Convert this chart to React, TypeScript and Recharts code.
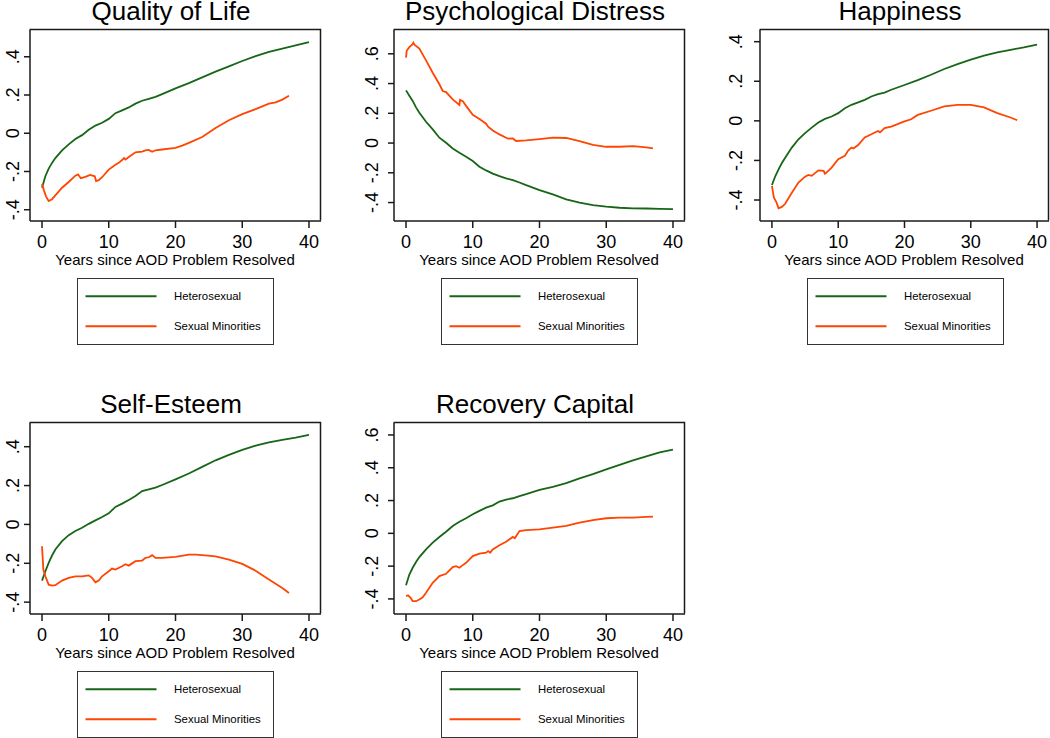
import { LineChart, Line, XAxis, YAxis } from "recharts"

type Pt = [number, number]

const FONT = '"Liberation Sans", Arial, Helvetica, sans-serif'
const GREEN = "#176617"
const ORANGE = "#ff4500"
const AXIS = "#1a1a1a"

const xTicks = [0, 10, 20, 30, 40]
const xDomain: [number, number] = [-1.8, 41.8]

const titles = ["Quality of Life", "Psychological Distress", "Happiness", "Self-Esteem", "Recovery Capital"]
const legendNames = ["Heterosexual", "Sexual Minorities"]
const xTitle = "Years since AOD Problem Resolved"

// heterosexual curves share one grid of years
const heteroYears = [0, 0.5, 1, 1.5, 2, 3, 4, 5, 6, 7, 8, 9, 10, 11, 12, 13, 14, 15, 16, 17, 18, 20, 22, 24, 26, 28, 30, 32, 34, 36, 38, 40]

const qolHetero = [-0.285, -0.225, -0.185, -0.155, -0.13, -0.09, -0.058, -0.03, -0.01, 0.018, 0.04, 0.055, 0.075, 0.105, 0.12, 0.135, 0.155, 0.17, 0.18, 0.19, 0.205, 0.235, 0.262, 0.292, 0.322, 0.35, 0.378, 0.403, 0.425, 0.443, 0.46, 0.477]
const distressHetero = [0.354, 0.318, 0.283, 0.24, 0.204, 0.143, 0.092, 0.036, 0.002, -0.036, -0.065, -0.092, -0.121, -0.159, -0.184, -0.205, -0.222, -0.237, -0.249, -0.265, -0.283, -0.316, -0.345, -0.379, -0.401, -0.417, -0.428, -0.435, -0.439, -0.44, -0.442, -0.444]
const happyHetero = [-0.324, -0.28, -0.245, -0.213, -0.186, -0.135, -0.093, -0.062, -0.034, -0.008, 0.01, 0.022, 0.039, 0.064, 0.081, 0.093, 0.106, 0.123, 0.135, 0.143, 0.157, 0.181, 0.206, 0.233, 0.262, 0.287, 0.309, 0.329, 0.346, 0.359, 0.371, 0.385]
const esteemHetero = [-0.289, -0.241, -0.198, -0.16, -0.129, -0.086, -0.055, -0.034, -0.017, 0.003, 0.021, 0.038, 0.057, 0.09, 0.107, 0.126, 0.146, 0.172, 0.181, 0.189, 0.203, 0.232, 0.262, 0.296, 0.33, 0.358, 0.384, 0.405, 0.422, 0.435, 0.447, 0.461]
const capitalHetero = [-0.316, -0.251, -0.21, -0.175, -0.145, -0.098, -0.057, -0.022, 0.01, 0.045, 0.071, 0.092, 0.116, 0.137, 0.157, 0.171, 0.194, 0.206, 0.214, 0.227, 0.239, 0.265, 0.284, 0.306, 0.335, 0.361, 0.39, 0.418, 0.445, 0.469, 0.494, 0.51]

// minority curves are jagged, so [year, value]
const qolMinority: Pt[] = [[0, -0.265], [0.3, -0.3], [0.6, -0.33], [1, -0.355], [1.5, -0.345], [2, -0.325], [3, -0.285], [4, -0.255], [5, -0.222], [5.4, -0.215], [5.8, -0.235], [6.5, -0.228], [7.2, -0.218], [7.9, -0.225], [8.1, -0.25], [8.5, -0.245], [9, -0.23], [10, -0.19], [11, -0.165], [11.5, -0.155], [12, -0.14], [12.3, -0.13], [12.5, -0.138], [13, -0.124], [14, -0.1], [15, -0.096], [15.5, -0.09], [16, -0.087], [16.5, -0.097], [17, -0.089], [18, -0.085], [20, -0.076], [21, -0.065], [22, -0.05], [24, -0.02], [26, 0.028], [28, 0.068], [30, 0.1], [32, 0.126], [34, 0.155], [35, 0.162], [36, 0.176], [37, 0.196]]
const distressMinority: Pt[] = [[0, 0.574], [0.1, 0.62], [0.5, 0.645], [1, 0.665], [1.1, 0.675], [1.3, 0.66], [2, 0.635], [3, 0.556], [4, 0.473], [5, 0.395], [5.5, 0.35], [6, 0.343], [7, 0.294], [8, 0.256], [8.1, 0.29], [8.5, 0.282], [9, 0.25], [10, 0.19], [11, 0.162], [12, 0.13], [12.3, 0.11], [13, 0.085], [14, 0.058], [15, 0.036], [15.3, 0.03], [16, 0.031], [16.5, 0.014], [18, 0.018], [20, 0.027], [22, 0.036], [24, 0.034], [26, 0.013], [28, -0.013], [30, -0.025], [32, -0.025], [34, -0.02], [36, -0.029], [37, -0.036]]
const happyMinority: Pt[] = [[0, -0.329], [0.3, -0.388], [0.7, -0.413], [1, -0.442], [1.5, -0.435], [2, -0.419], [3, -0.363], [4, -0.312], [5, -0.282], [5.5, -0.273], [6, -0.278], [7, -0.25], [7.8, -0.253], [8, -0.267], [8.5, -0.253], [9, -0.236], [10, -0.194], [11, -0.177], [11.5, -0.15], [12, -0.135], [12.3, -0.14], [13, -0.122], [14, -0.084], [15, -0.068], [16, -0.051], [16.3, -0.058], [17, -0.037], [18, -0.029], [20, -0.003], [21, 0.008], [22, 0.03], [24, 0.051], [26, 0.073], [28, 0.081], [30, 0.081], [32, 0.068], [34, 0.039], [36, 0.017], [37, 0.003]]
const esteemMinority: Pt[] = [[0, -0.112], [0.2, -0.232], [0.5, -0.267], [1, -0.31], [1.5, -0.315], [2, -0.313], [3, -0.289], [4, -0.275], [5, -0.267], [6, -0.267], [7, -0.262], [7.5, -0.275], [8, -0.298], [8.5, -0.289], [9, -0.267], [10, -0.241], [10.5, -0.227], [11, -0.232], [12, -0.215], [12.5, -0.205], [13, -0.212], [14, -0.189], [15, -0.186], [15.5, -0.172], [16, -0.169], [16.5, -0.158], [17, -0.172], [18, -0.172], [20, -0.167], [22, -0.155], [23, -0.155], [24, -0.158], [26, -0.164], [28, -0.181], [30, -0.203], [32, -0.238], [34, -0.284], [36, -0.327], [37, -0.353]]
const capitalMinority: Pt[] = [[0, -0.384], [0.3, -0.378], [0.7, -0.394], [1, -0.414], [1.5, -0.414], [2, -0.404], [2.5, -0.39], [3, -0.363], [4, -0.302], [5, -0.261], [6, -0.247], [7, -0.206], [7.5, -0.2], [8, -0.21], [8.3, -0.2], [9, -0.18], [10, -0.139], [11, -0.124], [12, -0.118], [12.3, -0.108], [12.6, -0.118], [13, -0.098], [14, -0.073], [15, -0.051], [16, -0.022], [16.3, -0.03], [17, 0.014], [18, 0.02], [20, 0.024], [22, 0.035], [24, 0.045], [26, 0.065], [28, 0.08], [30, 0.092], [32, 0.096], [34, 0.096], [36, 0.1], [37, 0.102]]

const yTicksA = [-0.4, -0.2, 0, 0.2, 0.4]
const yTicksB = [-0.4, -0.2, 0, 0.2, 0.4, 0.6]

const yDomains: [number, number][] = [[-0.459, 0.54], [-0.524, 0.76], [-0.506, 0.459], [-0.461, 0.522], [-0.492, 0.673]]

// plot frames (page px)
const colLeft = [29.5, 393.5, 759.5]
const colWidth = [291, 291, 289]
const labelGap = [11, 16, 17.5]
const rowTop = [29.5, 422.5]
const titleBase = [20, 413]
const FH = 191
const ML = 45
const MT = 6
const MR = 8
const XH = 40

const fmt = (v: number) =>
  Math.abs(v) < 1e-9 ? "0" : (v < 0 ? "-" : "") + Math.abs(v).toFixed(1).replace(/^0/, "")

const heteroRows = (vals: number[]) => heteroYears.map((x, i) => ({ x, v: vals[i] }))
const minorityRows = (pts: Pt[]) => pts.map(([x, v]) => ({ x, v }))

const panels = [
  { hetero: qolHetero, minority: qolMinority, ticks: yTicksA, col: 0, row: 0 },
  { hetero: distressHetero, minority: distressMinority, ticks: yTicksB, col: 1, row: 0 },
  { hetero: happyHetero, minority: happyMinority, ticks: yTicksA, col: 2, row: 0 },
  { hetero: esteemHetero, minority: esteemMinority, ticks: yTicksA, col: 0, row: 1 },
  { hetero: capitalHetero, minority: capitalMinority, ticks: yTicksB, col: 1, row: 1 },
]

function Panel({ idx }: { idx: number }) {
  const p = panels[idx]
  const fw = colWidth[p.col]
  const left = colLeft[p.col] - ML
  const top = rowTop[p.row] - MT
  const axisY = MT + FH
  const gap = labelGap[p.col]
  const dom = yDomains[idx]

  return (
    <div style={{ position: "absolute", left, top }}>
      <LineChart
        width={ML + fw + MR}
        height={MT + FH + XH}
        margin={{ top: MT, right: MR, left: 0, bottom: 0 }}
        style={{ fontFamily: FONT, overflow: "visible" }}
      >
        <XAxis
          dataKey="x"
          type="number"
          domain={xDomain}
          ticks={xTicks}
          allowDataOverflow
          height={XH}
          tickSize={7}
          axisLine={{ stroke: AXIS, strokeWidth: 1.5 }}
          tickLine={{ stroke: AXIS, strokeWidth: 1.5 }}
          tick={(t: any) => (
            <text x={t.x} y={axisY + 26.7} textAnchor="middle" fontSize={18} fill="#000" fontFamily={FONT}>
              {t.payload.value}
            </text>
          )}
        />
        <YAxis
          type="number"
          domain={dom}
          ticks={p.ticks}
          allowDataOverflow
          width={ML}
          tickSize={6}
          axisLine={{ stroke: AXIS, strokeWidth: 1.5 }}
          tickLine={{ stroke: AXIS, strokeWidth: 1.5 }}
          tick={(t: any) => {
            const x0 = ML - gap
            return (
              <text
                x={x0}
                y={t.y}
                transform={`rotate(-90 ${x0} ${t.y})`}
                textAnchor="middle"
                fontSize={18}
                fill="#000"
                fontFamily={FONT}
              >
                {fmt(t.payload.value)}
              </text>
            )
          }}
        />
        <Line
          data={heteroRows(p.hetero)}
          dataKey="v"
          type="linear"
          stroke={GREEN}
          strokeWidth={1.8}
          dot={false}
          isAnimationActive={false}
        />
        <Line
          data={minorityRows(p.minority)}
          dataKey="v"
          type="linear"
          stroke={ORANGE}
          strokeWidth={1.8}
          dot={false}
          isAnimationActive={false}
        />
      </LineChart>
    </div>
  )
}

function Overlay() {
  return (
    <svg width={1050} height={738} style={{ position: "absolute", left: 0, top: 0, pointerEvents: "none" }}>
      {panels.map((p, i) => {
        const fl = colLeft[p.col]
        const fw = colWidth[p.col]
        const ft = rowTop[p.row]
        const L = Math.round(fl + 47)
        const T = Math.round(ft + FH + 57.5)
        return (
          <g key={i} fontFamily={FONT}>
            <text x={fl + fw / 2 - 4} y={titleBase[p.row]} textAnchor="middle" fontSize={26} fill="#000">
              {titles[i]}
            </text>
            {/* top and right sides of the plot region box */}
            <path
              d={`M ${fl} ${ft} H ${fl + fw} V ${ft + FH}`}
              fill="none"
              stroke={AXIS}
              strokeWidth={1.5}
            />
            <text x={fl + fw / 2} y={ft + FH + 44.5} textAnchor="middle" fontSize={15} fill="#000">
              {xTitle}
            </text>
            <rect x={L + 0.5} y={T + 0.5} width={196} height={66} fill="none" stroke="#333" strokeWidth={1} />
            <line x1={L + 8.5} x2={L + 79.5} y1={T + 18.3} y2={T + 18.3} stroke={GREEN} strokeWidth={2} />
            <line x1={L + 8.5} x2={L + 79.5} y1={T + 48.3} y2={T + 48.3} stroke={ORANGE} strokeWidth={2} />
            <text x={L + 97} y={T + 22.4} fontSize={11.4} fill="#000">{legendNames[0]}</text>
            <text x={L + 97} y={T + 52.4} fontSize={11.4} fill="#000">{legendNames[1]}</text>
          </g>
        )
      })}
    </svg>
  )
}

export default function App() {
  return (
    <div style={{ position: "absolute", left: 0, top: 0, width: 1050, height: 738, background: "#fff" }}>
      {panels.map((_, i) => (
        <Panel key={i} idx={i} />
      ))}
      <Overlay />
    </div>
  )
}
